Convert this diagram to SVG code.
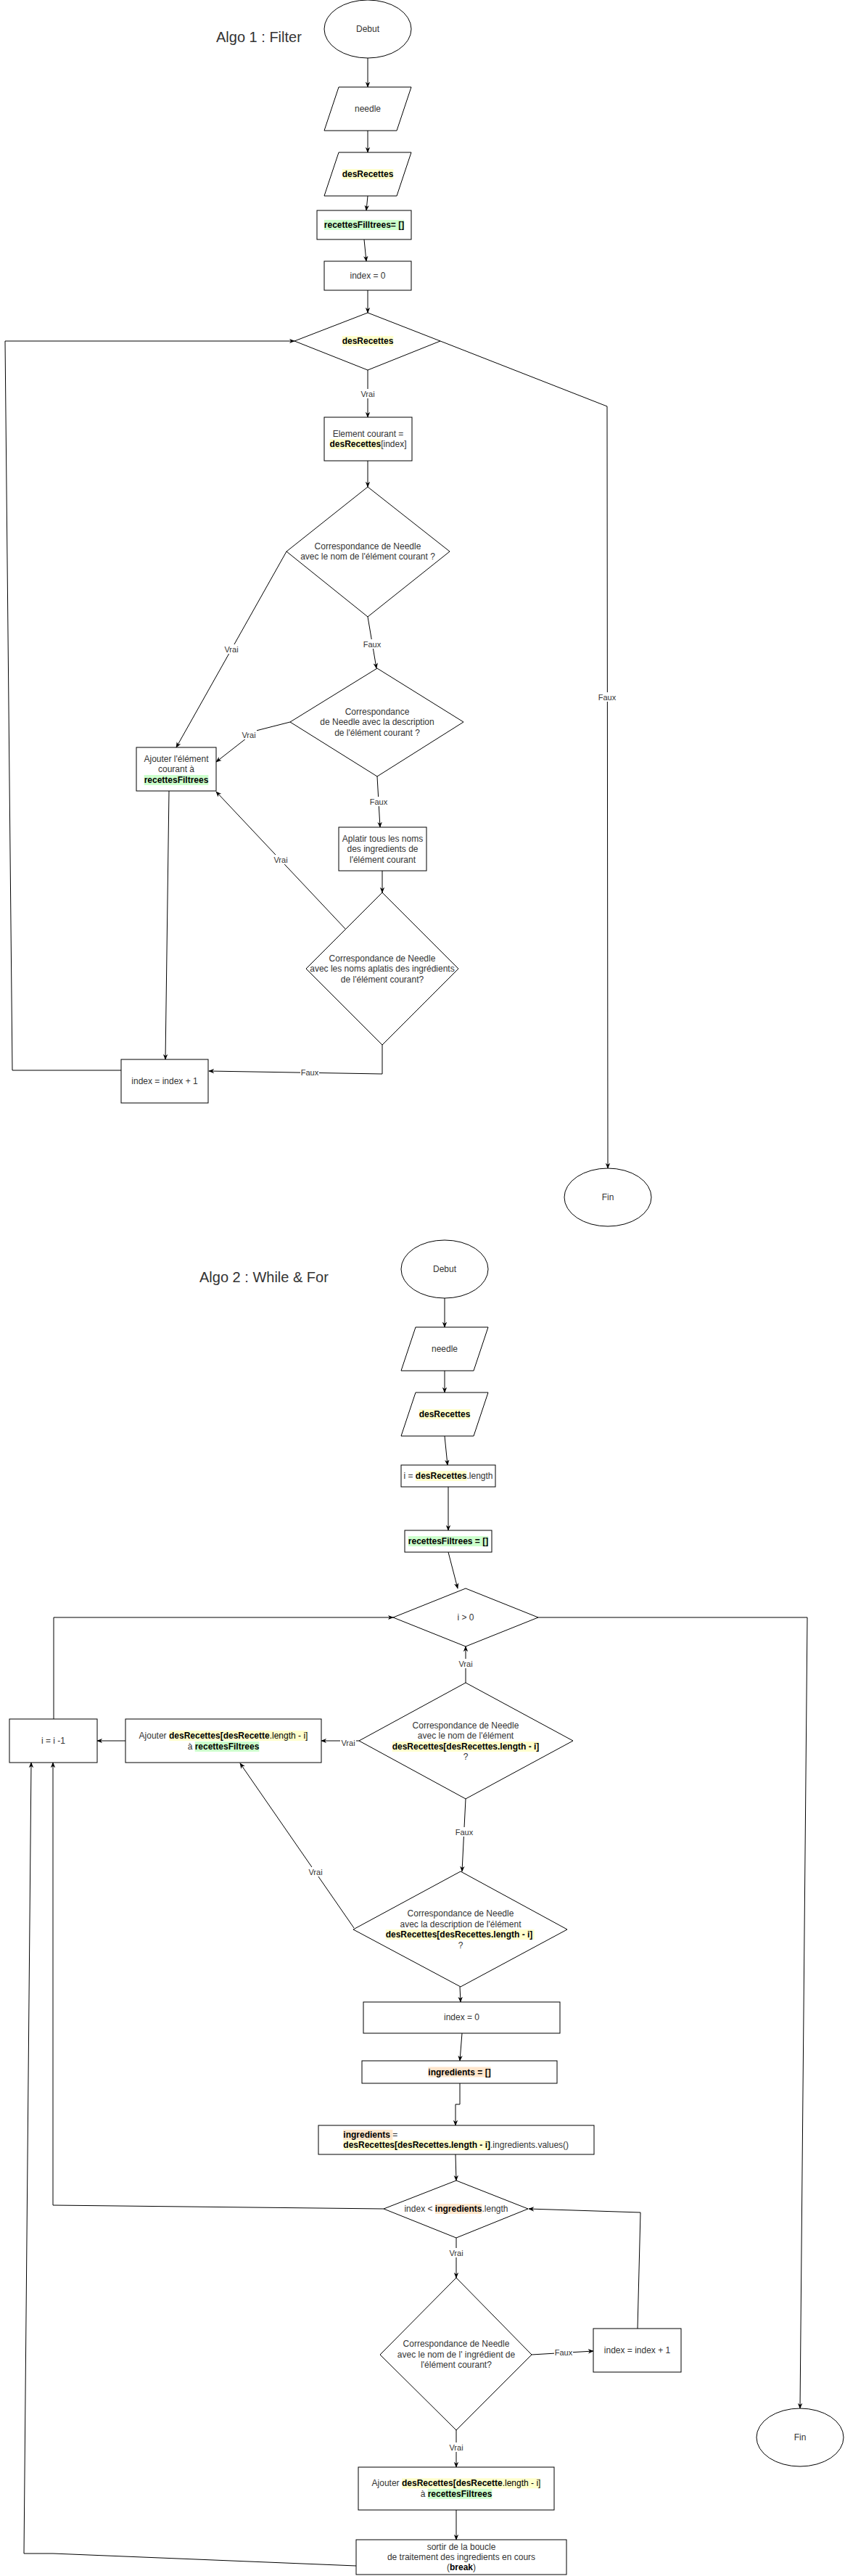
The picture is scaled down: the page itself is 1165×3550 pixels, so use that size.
<svg xmlns="http://www.w3.org/2000/svg" width="1165" height="3550" viewBox="0 0 1165 3550">
<defs>
<style>
.s{fill:#fff;stroke:#000;stroke-width:1}
.t{font-family:"Liberation Sans",Arial,Helvetica,sans-serif;font-size:12px;fill:#333;text-anchor:middle}
.l{text-anchor:start}
.b{font-weight:bold;fill:#000}
.ttl{font-family:"Liberation Sans",Arial,Helvetica,sans-serif;font-size:20px;fill:#333}
.e{fill:none;stroke:#000;stroke-width:1;marker-end:url(#ar)}
.lb{font-family:"Liberation Sans",Arial,Helvetica,sans-serif;font-size:11px;fill:#333;text-anchor:middle}
.bg{fill:#fff}
.hy{fill:#ffffcc}.hg{fill:#ccffcc}.ho{fill:#ffe6cc}
</style>
<marker id="ar" viewBox="0 0 10 10" refX="9" refY="5" markerWidth="8" markerHeight="8" markerUnits="userSpaceOnUse" orient="auto"><path d="M0,1 L10,5 L0,9 L3,5 z" fill="#000"/></marker>
</defs>
<rect width="1165" height="3550" fill="#fff"/>

<text class="ttl" x="298" y="58">Algo 1 : Filter</text>
<text class="ttl" x="275" y="1767">Algo 2 : While &amp; For</text>

<g id="connectors">
<path class="e" d="M507,80 L507,120"/>
<path class="e" d="M507,180 L507,210"/>
<path class="e" d="M507,270 L505,290"/>
<path class="e" d="M502,330 L505,360"/>
<path class="e" d="M507,400 L507,431"/>
<path class="e" d="M507,510 L507,575"/>
<path class="e" d="M507,635 L507,671"/>
<path class="e" d="M395,760 L243,1030"/>
<path class="e" d="M507,850 L519,921"/>
<path class="e" d="M400,995 L353,1007 L298,1050"/>
<path class="e" d="M520,1070 L524,1140"/>
<path class="e" d="M527,1200 L527,1230"/>
<path class="e" d="M476,1280 L298,1091"/>
<path class="e" d="M527,1440 L527,1480 L288,1476"/>
<path class="e" d="M233,1090 L228,1460"/>
<path class="e" d="M167,1475 L17,1475 L7,470 L406,470"/>
<path class="e" d="M607,470 L837,560 L838,1610"/>

<path class="e" d="M613,1789 L613,1829"/>
<path class="e" d="M613,1889 L613,1919"/>
<path class="e" d="M613,1979 L617,2019"/>
<path class="e" d="M618,2049 L618,2109"/>
<path class="e" d="M618,2139 L631,2189"/>
<path class="e" d="M74,2369 L74,2229 L542,2229"/>
<path class="e" d="M742,2229 L1113,2229 L1103,3319"/>
<path class="e" d="M642,2319 L642,2269"/>
<path class="e" d="M495,2399 L443,2399"/>
<path class="e" d="M173,2399 L134,2399"/>
<path class="e" d="M642,2479 L637,2579"/>
<path class="e" d="M488,2657 L331,2430"/>
<path class="e" d="M634,2738 L635,2759"/>
<path class="e" d="M637,2802 L634,2840"/>
<path class="e" d="M634,2871 L634,2900 L628,2900 L628,2929"/>
<path class="e" d="M628,2969 L629,3005"/>
<path class="e" d="M529,3044 L73,3039 L73,2429"/>
<path class="e" d="M629,3084 L629,3139"/>
<path class="e" d="M733,3245 L818,3240"/>
<path class="e" d="M879,3209 L883,3049 L729,3044"/>
<path class="e" d="M629,3349 L629,3400"/>
<path class="e" d="M629,3459 L629,3500"/>
<path class="e" d="M491,3536 L73,3519 L33,3519 L43,2429"/>

<g id="labels">
<rect class="bg" x="496" y="536" width="22" height="13"/><text class="lb" x="507" y="547">Vrai</text>
<rect class="bg" x="308" y="888" width="22" height="13"/><text class="lb" x="319" y="899">Vrai</text>
<rect class="bg" x="500" y="881" width="26" height="13"/><text class="lb" x="513" y="892">Faux</text>
<rect class="bg" x="332" y="1006" width="22" height="13"/><text class="lb" x="343" y="1017">Vrai</text>
<rect class="bg" x="509" y="1098" width="26" height="13"/><text class="lb" x="522" y="1109">Faux</text>
<rect class="bg" x="376" y="1178" width="22" height="13"/><text class="lb" x="387" y="1189">Vrai</text>
<rect class="bg" x="414" y="1471" width="26" height="13"/><text class="lb" x="427" y="1482">Faux</text>
<rect class="bg" x="824" y="954" width="26" height="13"/><text class="lb" x="837" y="965">Faux</text>

<rect class="bg" x="631" y="2286" width="22" height="13"/><text class="lb" x="642" y="2297">Vrai</text>
<rect class="bg" x="469" y="2395" width="22" height="13"/><text class="lb" x="480" y="2406">Vrai</text>
<rect class="bg" x="627" y="2518" width="26" height="13"/><text class="lb" x="640" y="2529">Faux</text>
<rect class="bg" x="424" y="2573" width="22" height="13"/><text class="lb" x="435" y="2584">Vrai</text>
<rect class="bg" x="618" y="3098" width="22" height="13"/><text class="lb" x="629" y="3109">Vrai</text>
<rect class="bg" x="764" y="3235" width="26" height="13"/><text class="lb" x="777" y="3246">Faux</text>
<rect class="bg" x="618" y="3366" width="22" height="13"/><text class="lb" x="629" y="3377">Vrai</text>
</g>
</g>

<!-- Algo 1 nodes -->
<g id="a1-debut"><ellipse class="s" cx="507" cy="40" rx="60" ry="40"/><text class="t" x="507" y="44">Debut</text></g>
<g id="a1-needle"><polygon class="s" points="467,120 567,120 547,180 447,180"/><text class="t" x="507" y="154">needle</text></g>
<g id="a1-desrecettes"><polygon class="s" points="467,210 567,210 547,270 447,270"/><rect class="hy" x="471.7" y="233" width="70.7" height="14"/><text class="t b" x="507" y="244">desRecettes</text></g>
<g id="a1-recettesfiltrees"><rect class="s" x="437" y="290" width="130" height="40"/><rect class="hg" x="446.9" y="303" width="110.3" height="14"/><text class="t b" x="502" y="314">recettesFilltrees= []</text></g>
<g id="a1-index0"><rect class="s" x="447" y="360" width="120" height="40"/><text class="t" x="507" y="384">index = 0</text></g>
<g id="a1-loop"><polygon class="s" points="507,431 607,470 507,510 406,470"/><rect class="hy" x="471.7" y="463" width="70.7" height="14"/><text class="t b" x="507" y="474">desRecettes</text></g>
<g id="a1-element"><rect class="s" x="447" y="575" width="121" height="60"/><rect class="hy" x="454.5" y="605" width="70.7" height="14"/><text class="t" x="507.5" y="602">Element courant =</text><text class="t" x="507.5" y="616"><tspan class="b">desRecettes</tspan>[index]</text></g>
<g id="a1-d1"><polygon class="s" points="507,671 620,760 507,850 395,760"/><text class="t" x="507" y="757">Correspondance de Needle</text><text class="t" x="507" y="771">avec le nom de l'élément courant ?</text></g>
<g id="a1-d2"><polygon class="s" points="520,921 639,995 520,1070 400,995"/><text class="t" x="520" y="985">Correspondance</text><text class="t" x="520" y="999">de Needle avec la description</text><text class="t" x="520" y="1014">de l'élément courant ?</text></g>
<g id="a1-ajouter"><rect class="s" x="188" y="1030" width="110" height="60"/><rect class="hg" x="198.6" y="1068" width="88.7" height="14"/><text class="t" x="243" y="1050">Ajouter l'élément</text><text class="t" x="243" y="1064">courant à</text><text class="t b" x="243" y="1079">recettesFiltrees</text></g>
<g id="a1-aplatir"><rect class="s" x="467" y="1140" width="121" height="60"/><text class="t" x="527.5" y="1160">Aplatir tous les noms</text><text class="t" x="527.5" y="1174">des ingredients de</text><text class="t" x="527.5" y="1189">l'élément courant</text></g>
<g id="a1-d3"><polygon class="s" points="527,1230 632,1335 527,1440 422,1335"/><text class="t" x="527" y="1325">Correspondance de Needle</text><text class="t" x="527" y="1339">avec les noms aplatis des ingrédients</text><text class="t" x="527" y="1354">de l'élément courant?</text></g>
<g id="a1-increment"><rect class="s" x="167" y="1460" width="120" height="60"/><text class="t" x="227" y="1494">index = index + 1</text></g>
<g id="a1-fin"><ellipse class="s" cx="838" cy="1650" rx="60" ry="40"/><text class="t" x="838" y="1654">Fin</text></g>

<!-- Algo 2 nodes -->
<g id="a2-debut"><ellipse class="s" cx="613" cy="1749" rx="60" ry="40"/><text class="t" x="613" y="1753">Debut</text></g>
<g id="a2-needle"><polygon class="s" points="573,1829 673,1829 653,1889 553,1889"/><text class="t" x="613" y="1863">needle</text></g>
<g id="a2-desrecettes"><polygon class="s" points="573,1919 673,1919 653,1979 553,1979"/><rect class="hy" x="577.7" y="1942" width="70.7" height="14"/><text class="t b" x="613" y="1953">desRecettes</text></g>
<g id="a2-i"><rect class="s" x="553" y="2019" width="130" height="30"/><rect class="hy" x="572.8" y="2027" width="70.7" height="14"/><text class="t" x="618" y="2038">i = <tspan class="b">desRecettes</tspan>.length</text></g>
<g id="a2-recettesfiltrees"><rect class="s" x="558" y="2109" width="120" height="30"/><rect class="hg" x="562.8" y="2117" width="110.4" height="14"/><text class="t b" x="618" y="2128">recettesFiltrees = []</text></g>
<g id="a2-while"><polygon class="s" points="642,2189 742,2229 642,2269 542,2229"/><text class="t" x="642" y="2233">i &gt; 0</text></g>
<g id="a2-d1"><polygon class="s" points="642,2319 790,2399 642,2479 495,2399"/><rect class="hy" x="540.7" y="2400" width="202.7" height="14"/><text class="t" x="642" y="2382">Correspondance de Needle</text><text class="t" x="642" y="2396">avec le nom de l'élément</text><text class="t b" x="642" y="2411">desRecettes[desRecettes.length - i]</text><text class="t" x="642" y="2425">?</text></g>
<g id="a2-ajouter1"><rect class="s" x="173" y="2369" width="270" height="60"/><rect class="hy" x="233" y="2385" width="191.4" height="14"/><rect class="hg" x="268.7" y="2400" width="88.7" height="14"/><text class="t" x="308" y="2396">Ajouter <tspan class="b">desRecettes[desRecette</tspan><tspan fill="#000">.length - i]</tspan></text><text class="t" x="308" y="2411">à <tspan class="b">recettesFiltrees</tspan></text></g>
<g id="a2-decrement"><rect class="s" x="13" y="2369" width="121" height="60"/><text class="t" x="73.5" y="2403">i = i -1</text></g>
<g id="a2-d2"><polygon class="s" points="635,2579 782,2659 635,2738 487,2659"/><rect class="hy" x="531.7" y="2659" width="205" height="14"/><text class="t" x="635" y="2641">Correspondance de Needle</text><text class="t" x="635" y="2656">avec la description de l'élément</text><text class="t b" x="633" y="2670">desRecettes[desRecettes.length - i]</text><text class="t" x="635" y="2685">?</text></g>
<g id="a2-index0"><rect class="s" x="501" y="2759" width="271" height="43"/><text class="t" x="636.5" y="2784">index = 0</text></g>
<g id="a2-ingredients-init"><rect class="s" x="499" y="2840" width="269" height="31"/><rect class="ho" x="590.3" y="2848.5" width="86.4" height="14"/><text class="t b" x="633.5" y="2859.5">ingredients = []</text></g>
<g id="a2-ingredients-set"><rect class="s" x="439" y="2929" width="380" height="40"/><rect class="ho" x="473.3" y="2935" width="68" height="14"/><rect class="hy" x="473.3" y="2949.3" width="202.7" height="14"/><text class="t l" x="473.3" y="2946"><tspan class="b">ingredients</tspan> =</text><text class="t l" x="473.3" y="2960.3"><tspan class="b">desRecettes[desRecettes.length - i]</tspan>.ingredients.values()</text></g>
<g id="a2-for"><polygon class="s" points="629,3005 728,3044 629,3084 529,3044"/><rect class="ho" x="599.9" y="3037" width="64.7" height="14"/><text class="t" x="629" y="3048">index &lt; <tspan class="b">ingredients</tspan>.length</text></g>
<g id="a2-d3"><polygon class="s" points="629,3139 733,3245 629,3349 524,3245"/><text class="t" x="629" y="3234">Correspondance de Needle</text><text class="t" x="629" y="3249">avec le nom de l' ingrédient de</text><text class="t" x="629" y="3263">l'élément courant?</text></g>
<g id="a2-increment"><rect class="s" x="818" y="3209" width="121" height="60"/><text class="t" x="878.5" y="3243">index = index + 1</text></g>
<g id="a2-ajouter2"><rect class="s" x="494" y="3400" width="270" height="59"/><rect class="hy" x="554" y="3415.3" width="191.4" height="14"/><rect class="hg" x="589.7" y="3429.7" width="88.7" height="14"/><text class="t" x="629" y="3426.3">Ajouter <tspan class="b">desRecettes[desRecette</tspan><tspan fill="#000">.length - i]</tspan></text><text class="t" x="629" y="3440.7">à <tspan class="b">recettesFiltrees</tspan></text></g>
<g id="a2-break"><rect class="s" x="491" y="3500" width="290" height="48"/><text class="t" x="636" y="3514">sortir de la boucle</text><text class="t" x="636" y="3528">de traitement des ingredients en cours</text><text class="t" x="636" y="3542">(<tspan class="b">break</tspan>)</text></g>
<g id="a2-fin"><ellipse class="s" cx="1103" cy="3359" rx="60" ry="40"/><text class="t" x="1103" y="3363">Fin</text></g>
</svg>
